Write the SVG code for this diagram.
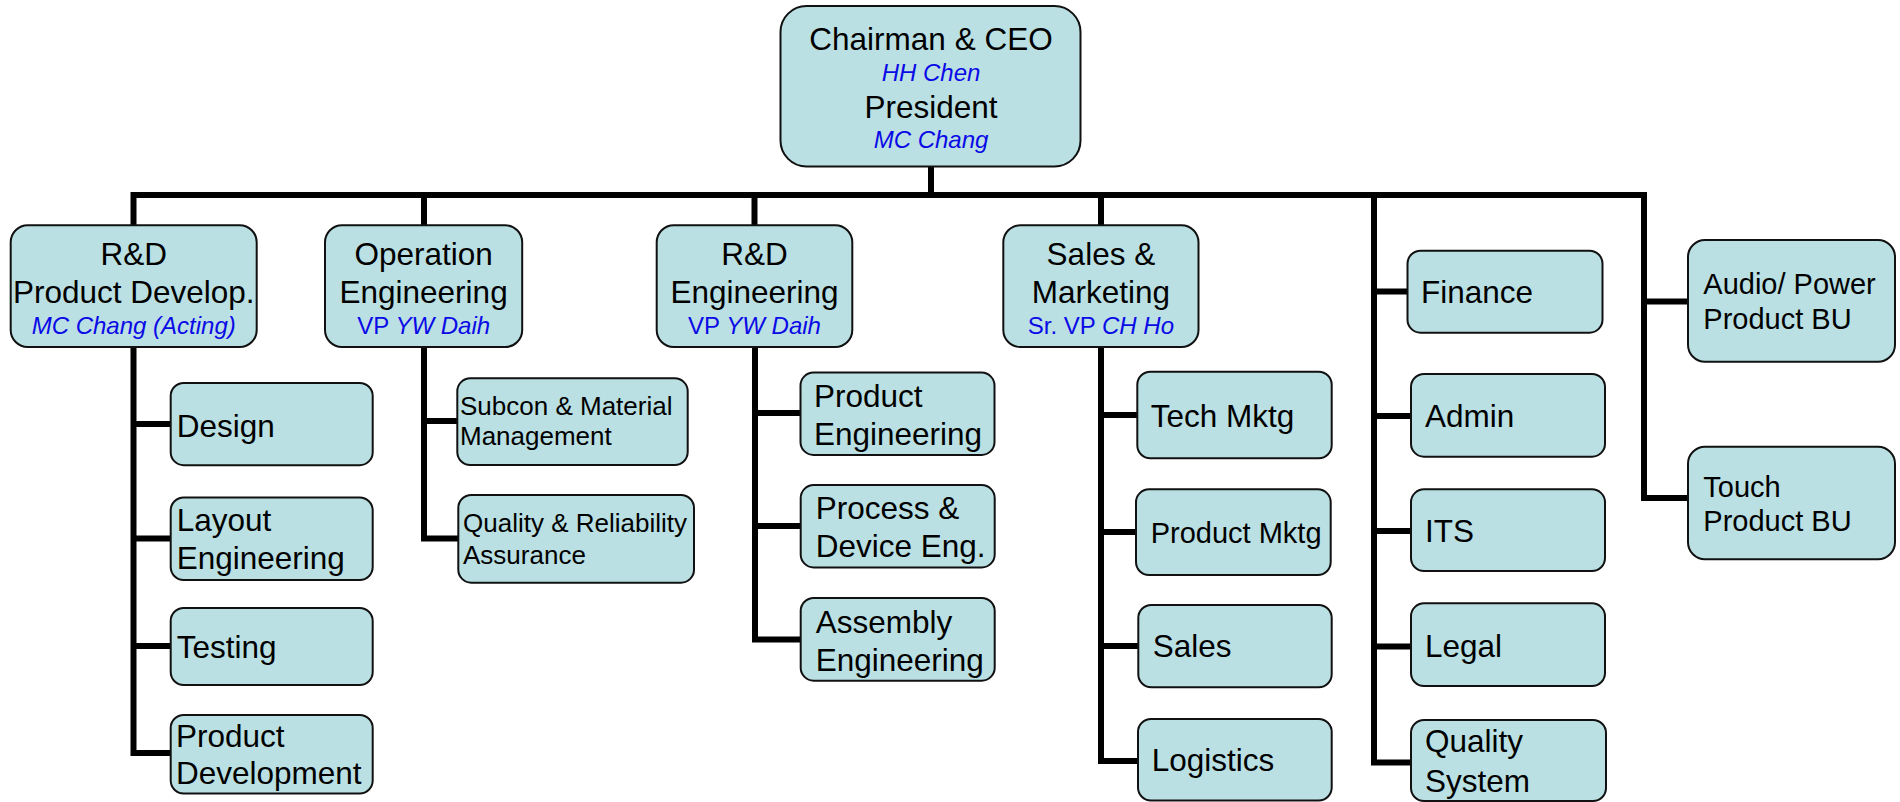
<svg xmlns="http://www.w3.org/2000/svg" width="1900" height="802" viewBox="0 0 1900 802">
<style>
.box{fill:#BAE0E3;stroke:#111;stroke-width:2}
.ln{fill:none;stroke:#000;stroke-width:6;stroke-linejoin:miter;stroke-linecap:butt}
text{font-family:"Liberation Sans",Arial,sans-serif;fill:#000}
.t{font-size:31.5px}
.c{text-anchor:middle}
.m{font-size:29px}
.s{font-size:26px}
.b{font-size:24px;fill:#0A0AE6}
.i{font-style:italic}
</style>
<rect width="1900" height="802" fill="#fff"/>
<g id="connectors">
<path class="ln" d="M931 166V195"/>
<path class="ln" d="M133.5 225V195H1644V498H1688"/>
<path class="ln" d="M424 195V225M754.5 195V225M1101 195V225"/>
<path class="ln" d="M1374 195V762.5H1411"/>
<path class="ln" d="M1644 301.5H1688"/>
<path class="ln" d="M133.5 347V753H171M133.5 424H171M133.5 538.5H171M133.5 646H171"/>
<path class="ln" d="M424 347V538.5H458.5M424 421H458"/>
<path class="ln" d="M755 347V639.5H801M755 413H801M755 526H801"/>
<path class="ln" d="M1101 347V761H1138M1101 415H1138M1101 532H1137M1101 646H1138"/>
<path class="ln" d="M1374 291.5H1408M1374 416H1411M1374 531H1411M1374 646.5H1411"/>
</g>
<g id="ceo">
<rect class="box" x="780.5" y="6" width="300" height="160.5" rx="26"/>
<text class="t c" x="931" y="50">Chairman &amp; CEO</text>
<text class="b i c" x="931" y="81">HH Chen</text>
<text class="t c" x="931" y="118.3">President</text>
<text class="b i c" x="931" y="148.3">MC Chang</text>
</g>
<g id="rd-product-develop">
<rect class="box" x="10.7" y="225.3" width="246" height="121.7" rx="17"/>
<text class="t c" x="133.7" y="265">R&amp;D</text>
<text class="t c" x="133.7" y="303.3">Product Develop.</text>
<text class="b i c" x="133.7" y="334">MC Chang (Acting)</text>
</g>
<g id="operation-engineering">
<rect class="box" x="325" y="225.3" width="197.2" height="121.7" rx="17"/>
<text class="t c" x="423.6" y="265">Operation</text>
<text class="t c" x="423.6" y="303.3">Engineering</text>
<text class="b c" x="423.6" y="334">VP <tspan class="i">YW Daih</tspan></text>
</g>
<g id="rd-engineering">
<rect class="box" x="656.7" y="225.3" width="195.6" height="121.7" rx="17"/>
<text class="t c" x="754.5" y="265">R&amp;D</text>
<text class="t c" x="754.5" y="303.3">Engineering</text>
<text class="b c" x="754.5" y="334">VP <tspan class="i">YW Daih</tspan></text>
</g>
<g id="sales-marketing">
<rect class="box" x="1003.3" y="225.3" width="195.2" height="121.7" rx="17"/>
<text class="t c" x="1100.9" y="265">Sales &amp;</text>
<text class="t c" x="1100.9" y="303.3">Marketing</text>
<text class="b c" x="1100.9" y="333.5">Sr. VP <tspan class="i">CH Ho</tspan></text>
</g>
<g id="design">
<rect class="box" x="170.7" y="382.9" width="202" height="82.3" rx="13"/>
<text class="t" x="176.7" y="436.5">Design</text>
</g>
<g id="layout-engineering">
<rect class="box" x="170.7" y="497.4" width="202" height="82.6" rx="13"/>
<text class="t" x="176.7" y="531">Layout</text>
<text class="t" x="176.7" y="569.3">Engineering</text>
</g>
<g id="testing">
<rect class="box" x="170.7" y="608" width="202" height="77" rx="13"/>
<text class="t" x="176.7" y="658">Testing</text>
</g>
<g id="product-development">
<rect class="box" x="170.7" y="715" width="202" height="78.5" rx="13"/>
<text class="t" x="176" y="746.5">Product</text>
<text class="t" x="176" y="783.6">Development</text>
</g>
<g id="subcon-material">
<rect class="box" x="457.3" y="378.3" width="230.4" height="86.7" rx="13"/>
<text class="s" x="460" y="415">Subcon &amp; Material</text>
<text class="s" x="460" y="445">Management</text>
</g>
<g id="quality-reliability">
<rect class="box" x="458.3" y="495" width="235.7" height="87.7" rx="13"/>
<text class="s" x="463" y="531.7">Quality &amp; Reliability</text>
<text class="s" x="463" y="564">Assurance</text>
</g>
<g id="product-engineering">
<rect class="box" x="800.5" y="372.6" width="194" height="82.3" rx="13"/>
<text class="t" x="814" y="406.7">Product</text>
<text class="t" x="814" y="444.9">Engineering</text>
</g>
<g id="process-device">
<rect class="box" x="800.7" y="485.1" width="194" height="82.3" rx="13"/>
<text class="t" x="815.7" y="518.8">Process &amp;</text>
<text class="t" x="815.7" y="557">Device Eng.</text>
</g>
<g id="assembly-engineering">
<rect class="box" x="800.7" y="598" width="194" height="82.7" rx="13"/>
<text class="t" x="815.7" y="632.5">Assembly</text>
<text class="t" x="815.7" y="670.7">Engineering</text>
</g>
<g id="tech-mktg">
<rect class="box" x="1137.3" y="371.7" width="194.4" height="86.6" rx="13"/>
<text class="t" x="1150.7" y="426.7">Tech Mktg</text>
</g>
<g id="product-mktg">
<rect class="box" x="1136" y="489.3" width="194.7" height="85.7" rx="13"/>
<text class="m" x="1150.7" y="542.7">Product Mktg</text>
</g>
<g id="sales">
<rect class="box" x="1138.3" y="605" width="193.4" height="82.3" rx="13"/>
<text class="t" x="1152.7" y="656.7">Sales</text>
</g>
<g id="logistics">
<rect class="box" x="1138" y="719" width="193.7" height="81.5" rx="13"/>
<text class="t" x="1151.7" y="771">Logistics</text>
</g>
<g id="finance">
<rect class="box" x="1407.5" y="250.7" width="195" height="82" rx="13"/>
<text class="t" x="1420.9" y="303.3">Finance</text>
</g>
<g id="admin">
<rect class="box" x="1411" y="374" width="194" height="82.7" rx="13"/>
<text class="t" x="1425" y="426.7">Admin</text>
</g>
<g id="its">
<rect class="box" x="1411" y="489.3" width="194" height="81.7" rx="13"/>
<text class="t" x="1425" y="541.7">ITS</text>
</g>
<g id="legal">
<rect class="box" x="1411" y="603.3" width="194" height="82.7" rx="13"/>
<text class="t" x="1425" y="656.7">Legal</text>
</g>
<g id="quality-system">
<rect class="box" x="1411" y="720" width="195" height="81" rx="13"/>
<text class="t" x="1425" y="751.7">Quality</text>
<text class="t" x="1425" y="791.7">System</text>
</g>
<g id="audio-power-bu">
<rect class="box" x="1688" y="240" width="207" height="121.7" rx="17"/>
<text class="m" x="1703.3" y="294">Audio/ Power</text>
<text class="m" x="1703.3" y="329">Product BU</text>
</g>
<g id="touch-bu">
<rect class="box" x="1688" y="446.7" width="207" height="112.6" rx="17"/>
<text class="m" x="1703.3" y="496.7">Touch</text>
<text class="m" x="1703.3" y="531">Product BU</text>
</g>
</svg>
